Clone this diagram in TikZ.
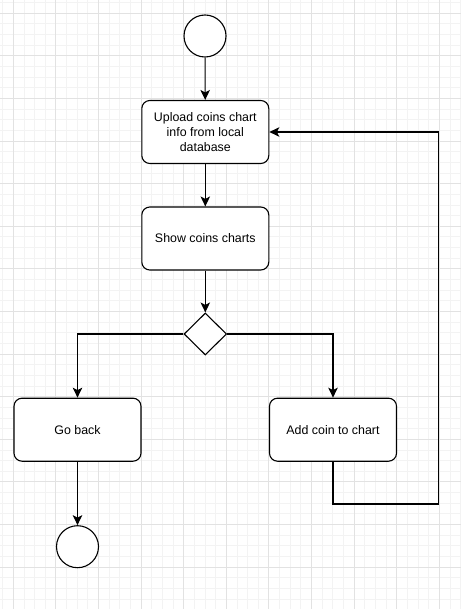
\documentclass[tikz,border=0pt]{standalone}
\usepackage{fontspec}
\setmainfont{Liberation Sans}
\usetikzlibrary{shapes.geometric,arrows.meta}
\definecolor{minorg}{HTML}{F3F3F3}
\definecolor{majorg}{HTML}{E2E2E2}
\begin{document}
\begin{tikzpicture}[x=1pt,y=-1pt,
  act/.style={draw=black, line width=1.1pt, rounded corners=8pt, minimum width=127pt, minimum height=63pt, fill=white, align=center, font=\fontsize{12.4}{14.7}\selectfont, inner sep=0pt},
  state/.style={draw=black, line width=1.1pt, circle, minimum size=42pt, inner sep=0pt, fill=white},
  choice/.style={draw=black, line width=1.1pt, diamond, minimum width=42.6pt, minimum height=42pt, inner sep=0pt, fill=white},
  arr/.style={draw=black, line width=1.1pt, -{Stealth[length=10pt,width=9.5pt,inset=2.5pt]}},
  minorline/.style={draw=minorg, line width=0.9pt},
  majorline/.style={draw=majorg, line width=0.9pt}]
\fill[white] (0,0) rectangle (461,609);
\useasboundingbox (0,0) rectangle (461,609);
\foreach \i in {0,...,43} {\pgfmathsetmacro\xx{2.65+10.65*\i}\draw[minorline] (\xx,0) -- (\xx,609);}
\foreach \i in {0,...,56} {\pgfmathsetmacro\yy{2.65+10.65*\i}\draw[minorline] (0,\yy) -- (461,\yy);}
\foreach \i in {0,...,10} {\pgfmathsetmacro\xx{13.3+42.6*\i}\draw[majorline] (\xx,0) -- (\xx,609);}
\foreach \i in {0,...,13} {\pgfmathsetmacro\yy{13.3+42.6*\i}\draw[majorline] (0,\yy) -- (461,\yy);}

\node[state] (s) at (205,36) {};
\node[act] (b1) at (205.3,132) {Upload coins chart\\info from local\\database};
\node[act] (b2) at (205.3,238.5) {Show coins charts};
\node[choice] (d) at (205.3,334) {};
\node[act] (gb) at (77.5,429.7) {Go back};
\node[act] (ac) at (333,429.7) {Add coin to chart};
\node[state] (e) at (77.5,546.7) {};
\coordinate (c1) at (438.5,504);

\draw[arr] (s) -- (b1);
\draw[arr] (b1) -- (b2);
\draw[arr] (b2) -- (d);
\draw[arr] (d.west) -| (gb);
\draw[arr] (d.east) -| (ac);
\draw[arr] (gb) -- (e);
\draw[arr] (ac.south) |- (c1) |- (b1.east);
\end{tikzpicture}
\end{document}
